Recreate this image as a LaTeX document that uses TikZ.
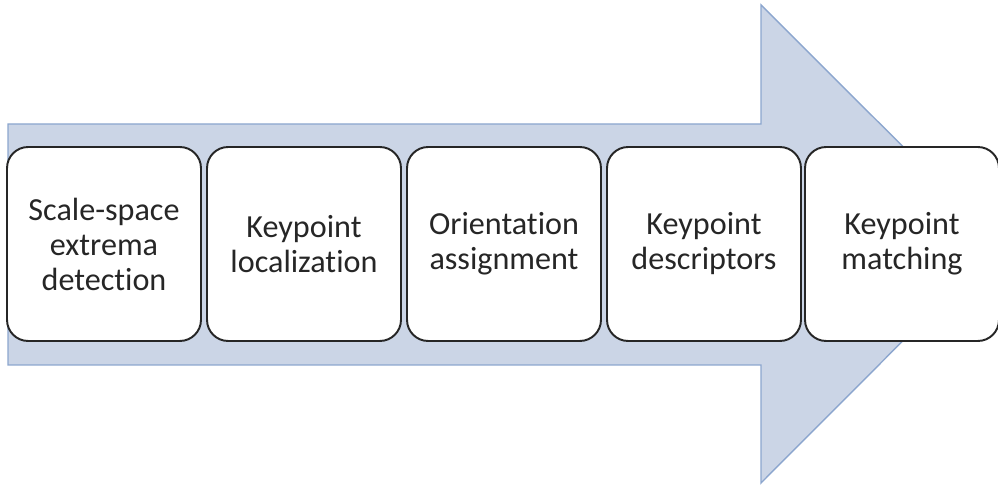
\documentclass[tikz,border=0pt]{standalone}
\usepackage{fontspec}
\setmainfont{Carlito}[RawFeature={-liga;-clig;-dlig}]
\definecolor{flowfill}{RGB}{203,213,230}
\definecolor{flowline}{RGB}{140,166,206}

\begin{document}
\begin{tikzpicture}[x=0.02cm, y=0.02cm,
		stage/.style={draw=black!85, line width=1.1pt, rectangle, rounded corners=12pt, fill=white,
			minimum width=3.88cm, minimum height=3.88cm, align=center, text=black!85,
			font=\fontsize{18.3}{19.9}\selectfont, inner sep=0pt}]
				\useasboundingbox (0, 0) rectangle (998, 487);
				% the big arrow behind the stages
				\fill[flowfill, draw=flowline, line width=0.8pt] (8, 122) -- (8, 363) -- (761, 363) -- (761, 482)
					-- (1000, 243.5) -- (761, 4) -- (761, 122) -- cycle;
				\node[stage] (S)at(104, 243) {Scale-space\\extrema\\detection};
				\node[stage] (L)at(304, 243) {Keypoint\\localization};
				\node[stage] (O)at(504, 243) {Orientation\\assignment};
				\node[stage] (D)at(704, 243) {Keypoint\\descriptors};
				\node[stage] (M)at(902, 243) {Keypoint\\matching};
			\end{tikzpicture}
\end{document}
